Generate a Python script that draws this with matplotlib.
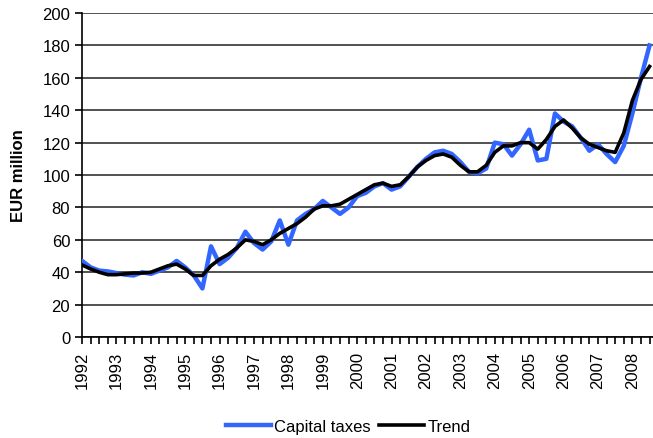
import numpy as np
import matplotlib.pyplot as plt

plt.rcParams['font.family'] = ['Liberation Sans', 'DejaVu Sans']

# quarterly data, 1992Q1 .. 2008Q3
years = list(range(1992, 2009))
capital_taxes = [47, 43, 41, 40.5, 39.5, 38.5, 38, 40, 39, 41, 43, 47, 43, 38, 30, 56,
                 45, 49, 55, 65, 58, 54, 59, 72, 57, 72, 76, 79, 84, 80, 76, 80,
                 87, 89, 93, 95, 91, 93, 99, 105, 110, 114, 115, 113, 108, 102, 101, 104,
                 120, 119, 112, 119, 128, 109, 110, 138, 133, 130, 123, 115, 119, 113, 108, 118,
                 138, 160, 180]
trend = [44.5, 42, 40, 38.5, 38.5, 39, 39.5, 39.5, 40, 42, 44, 45, 42, 38, 38, 44,
         48, 51, 55, 60, 59, 57, 60, 64, 67, 70, 74, 79, 81, 81, 82, 85,
         88, 91, 94, 95, 93, 94, 99, 105, 109, 112, 113, 111, 106, 102, 102, 106,
         114, 118, 118, 120, 120, 116, 122, 130, 134, 129, 123, 119, 117, 115, 114, 126,
         146, 159, 167]

x = np.arange(len(capital_taxes))

fig = plt.figure(figsize=(6.53, 4.39), dpi=100)
ax = fig.add_axes([0.1256, 0.23, 0.8744, 0.738])

ax.plot(x, capital_taxes, color='#3366ff', lw=3.2, label='Capital taxes', zorder=3)
ax.plot(x, trend, color='black', lw=2.6, label='Trend', zorder=4)

ax.set_xlim(0, 66.4)
ax.set_ylim(0, 200)
ax.set_yticks(range(0, 201, 20))
ax.yaxis.grid(True, color='#333333', lw=1.2)
ax.set_axisbelow(True)

ax.set_xticks(x, minor=True)
ax.set_xticks(np.arange(0, len(x), 4))
ax.set_xticklabels([str(y) for y in years], rotation=90, fontsize=12)
ax.tick_params(axis='x', which='both', direction='out', length=5, width=1.2, pad=5)
ax.tick_params(axis='y', direction='out', length=5, width=1.2, labelsize=12)

for s in ['top', 'right']:
    ax.spines[s].set_visible(False)
for s in ['left', 'bottom']:
    ax.spines[s].set_linewidth(1.2)

ax.set_ylabel('EUR million', fontsize=12, fontweight='bold', labelpad=12)

fig.legend(loc='lower center', bbox_to_anchor=(0.533, -0.025), ncol=2, frameon=False,
           fontsize=12, handlelength=2.7, handletextpad=0.2, columnspacing=0.5)

fig.savefig('out.png', dpi=100)
